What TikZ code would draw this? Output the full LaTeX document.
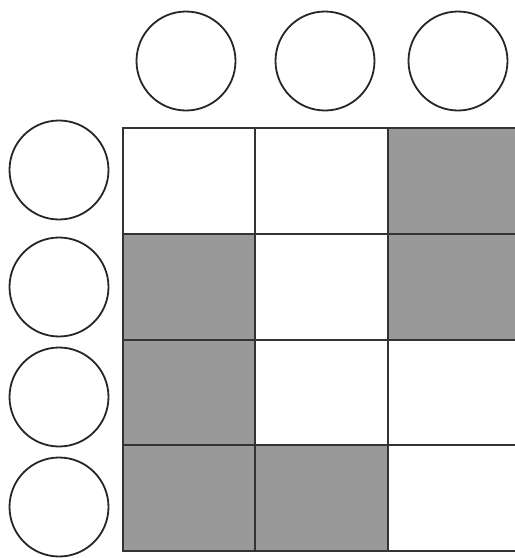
\documentclass[tikz,border=0pt]{standalone}
\begin{document}
\begin{tikzpicture}[x=1pt,y=-1pt,
  ring/.style={circle,draw=black!85,line width=1.8pt,minimum size=99pt,inner sep=0pt},
  cellline/.style={draw=black!80,line width=1.3pt},
  shade/.style={fill=black!40}]
\useasboundingbox (0,0) rectangle (515,558);
\clip (0,0) rectangle (515,558);
% top circles
\node[ring] (t1) at (186,61) {};
\node[ring] (t2) at (325,61) {};
\node[ring] (t3) at (458,61) {};
% left circles
\node[ring] (l1) at (59,170) {};
\node[ring] (l2) at (59,287) {};
\node[ring] (l3) at (59,397) {};
\node[ring] (l4) at (59,507) {};
% shaded cells
\fill[shade] (388,128) rectangle (525,234);
\fill[shade] (123,234) rectangle (255,340);
\fill[shade] (388,234) rectangle (525,340);
\fill[shade] (123,340) rectangle (255,445);
\fill[shade] (123,445) rectangle (255,551);
\fill[shade] (255,445) rectangle (388,551);
% grid
\draw[cellline] (525,128) -- (123,128) -- (123,551) -- (525,551);
\draw[cellline] (123,234) -- (525,234);
\draw[cellline] (123,340) -- (525,340);
\draw[cellline] (123,445) -- (525,445);
\draw[cellline] (255,128) -- (255,551);
\draw[cellline] (388,128) -- (388,551);
\end{tikzpicture}
\end{document}
